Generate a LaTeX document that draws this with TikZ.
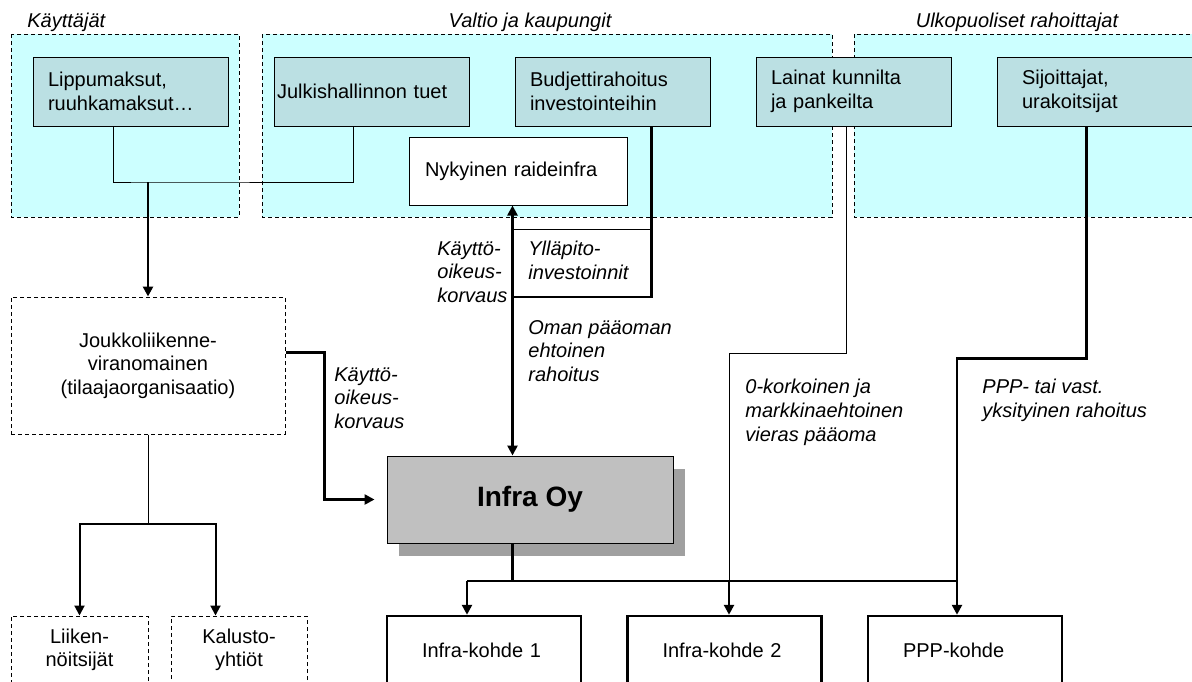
\documentclass[tikz,border=0pt]{standalone}
\usepackage{fontspec}
\setmainfont{Liberation Sans}
\usetikzlibrary{arrows.meta,positioning,calc,shadows}
\definecolor{groupcyan}{HTML}{CCFFFF}
\definecolor{sourceteal}{HTML}{BBE0E3}
\definecolor{infragrey}{HTML}{C0C0C0}
\definecolor{shadowgrey}{HTML}{A0A0A0}

\begin{document}
\begin{tikzpicture}[
    x=0.5pt, y=-0.5pt,
    font=\fontsize{10}{11.8}\selectfont,
    group/.style={draw, fill=groupcyan, line width=0.5pt, dash pattern=on 2pt off 1.5pt},
    grouplabel/.style={font=\fontsize{10}{11.8}\selectfont\itshape, inner sep=0pt},
    srcbox/.style={rectangle, draw, fill=sourceteal, line width=0.5pt, minimum height=34.5pt, inner ysep=0pt, inner xsep=7.5pt, text width=82.5pt, align=left},
    actorbox/.style={rectangle, draw, fill=white, line width=0.5pt, dash pattern=on 2pt off 1.5pt, align=center, inner sep=0pt},
    tgtbox/.style={rectangle, draw, fill=white, line width=1.25pt, minimum height=34pt, inner ysep=0pt, inner xsep=17.5pt, text width=62pt, align=left},
    flowlabel/.style={font=\fontsize{10}{11.8}\selectfont\itshape, align=left, inner sep=0pt, anchor=north west},
    thinline/.style={line width=0.5pt},
    thickline/.style={line width=1.25pt},
    arrow/.style={-{Triangle[length=5pt,width=5pt]}},
    biarrow/.style={{Triangle[length=5pt,width=5pt]}-{Triangle[length=5pt,width=5pt]}}
]
    \useasboundingbox (0,0) rectangle (1192,681);
    \clip (0,0) rectangle (1192,681);

    % rahoittajaryhmat
    \draw[group] (11,34) rectangle (239,217);
    \draw[group] (262,34) rectangle (832,217);
    \draw[group] (854,34) rectangle (1210,217);
    \node[grouplabel, anchor=north west] (userslbl) at (27,13) {Käyttäjät};
    \node[grouplabel, anchor=north] (statelbl) at (530,13) {Valtio ja kaupungit};
    \node[grouplabel, anchor=north] (extlbl) at (1017,13) {Ulkopuoliset rahoittajat};

    % rahoituslahteet
    \node[srcbox] (fees) at (130.5,91.5) {Lippumaksut,\\ruuhkamaksut…};
    \node[srcbox, right=22.5pt of fees, inner xsep=1.5pt, text width=94.5pt] (subsidy) {Julkishallinnon tuet};
    \node[srcbox, right=22.5pt of subsidy] (budget) {Budjettirahoitus\\investointeihin};
    \node[srcbox, right=22.5pt of budget] (loans) {Lainat kunnilta\\ja pankeilta};
    \node[srcbox, right=22.5pt of loans, inner xsep=12.5pt, text width=72.5pt] (investors) {Sijoittajat,\\urakoitsijat};
    \node[rectangle, draw, fill=white, thinline, minimum height=34pt, inner ysep=0pt, inner xsep=8pt, text width=93pt, align=left] (railinfra) at (518,171) {Nykyinen raideinfra};

    % toimijat
    \node[actorbox, minimum width=137pt, minimum height=68.5pt] (authority) at (148,365.5) {Joukkoliikenne-\\viranomainen\\(tilaajaorganisaatio)};
    \node[actorbox, minimum width=68.5pt, minimum height=34pt] (operators) at (79.5,650) {Liiken-\\nöitsijät};
    \node[actorbox, minimum width=68pt, minimum height=34pt] (rolling) at (239,650) {Kalusto-\\yhtiöt};
    \node[rectangle, draw, thinline, fill=infragrey, minimum width=143pt, minimum height=43.5pt, font=\fontsize{14}{16}\selectfont\bfseries, drop shadow={shadow xshift=6pt, shadow yshift=-6.5pt, fill=shadowgrey, opacity=1}] (infraoy) at (530,499.5) {Infra Oy};
    \node[tgtbox] (site1) at (484,650) {Infra-kohde 1};
    \node[tgtbox, right=22pt of site1] (site2) {Infra-kohde 2};
    \node[tgtbox, right=22pt of site2] (pppsite) {PPP-kohde};

    % apupisteet
    \coordinate (feejoin) at (148,182);
    \coordinate (opsplit) at (148,524);
    \coordinate (budgetout) at ($(budget.south west)+(137,0)$);
    \coordinate (usagetop) at ($(railinfra.south west)+(104,0)$);
    \coordinate (maintup) at (513,229);
    \coordinate (maintlow) at (513,297);
    \coordinate (loansout) at ($(loans.south west)+(91,0)$);
    \coordinate (investout) at ($(investors.south west)+(90,0)$);
    \coordinate (bus1) at (467,581);
    \coordinate (bus2) at (729,581);
    \coordinate (bus3) at (957,581);

    % yhteydet
    \draw[thinline] ($(fees.south west)+(81,0)$) |- (feejoin) -| ($(subsidy.south west)+(80,0)$);
    \draw[thickline, arrow] (feejoin) -- (feejoin |- authority.north);
    \draw[thickline, arrow, shorten >=6pt] ($(authority.north east)+(0,56)$) -- ++(39,0) |- (infraoy.west);
    \draw[thinline] (authority.south) -- (opsplit);
    \draw[line width=1pt, arrow] (opsplit) -| (operators.north);
    \draw[line width=1pt, arrow] (opsplit) -| ($(rolling.north west)+(45,0)$);

    \draw[thickline] (budgetout) |- (maintlow);
    \draw[thinline] (maintup) -- (maintup -| budgetout);
    \draw[thickline, biarrow] (usagetop) -- (usagetop |- infraoy.north);

    \draw[thinline] (loansout) -- ++(0,227) -| (bus2);
    \draw[thickline] (investout) -- ++(0,232) -| (bus3);
    \draw[thickline] ($(infraoy.south west)+(126,0)$) -- ++(0,38);
    \draw[thickline] (bus1) -- (bus3);
    \foreach \b/\k in {bus1/site1, bus2/site2, bus3/pppsite}
        \draw[thickline, arrow] (\b) -- (\b |- \k.north);

    % virtojen selitteet
    \node[flowlabel] (usefee1) at (437,241) {Käyttö-\\oikeus-\\korvaus};
    \node[flowlabel] (maint) at (528,241) {Ylläpito-\\investoinnit};
    \node[flowlabel] (equity) at (528,320) {Oman pääoman\\ehtoinen\\rahoitus};
    \node[flowlabel] (usefee2) at (334,367) {Käyttö-\\oikeus-\\korvaus};
    \node[flowlabel] (debt) at (745,379) {0-korkoinen ja\\markkinaehtoinen\\vieras pääoma};
    \node[flowlabel] (pppfin) at (982,379) {PPP- tai vast.\\yksityinen rahoitus};
\end{tikzpicture}
\end{document}
